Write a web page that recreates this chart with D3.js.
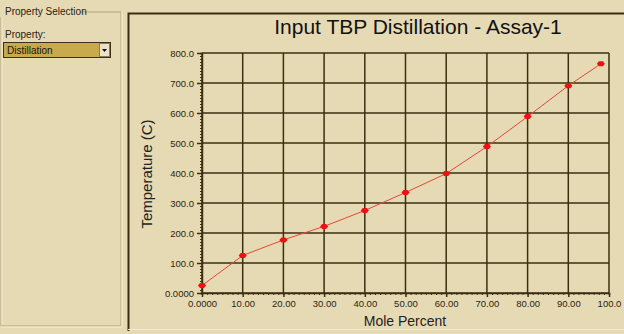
<!DOCTYPE html>
<html lang="en">
<head>
<meta charset="UTF-8">
<title>Input TBP Distillation - Assay-1</title>
<script src="https://d3js.org/d3.v7.min.js"></script>
<style>
  body { margin: 0; background: #e6dab4; }
  svg { display: block; font-family: Arial, "Liberation Sans", sans-serif; }
</style>
</head>
<body>
<svg id="chart" width="624" height="334"></svg>
<script>
// data
const molePercent = [0, 10, 20, 30, 40, 50, 60, 70, 80, 90, 98];
const temperature = [25, 125, 177, 222, 275, 335, 398, 488, 588, 691, 764];
const xTicks = [0, 10, 20, 30, 40, 50, 60, 70, 80, 90, 100];
const xTickLabels = ["0.0000", "10.00", "20.00", "30.00", "40.00", "50.00", "60.00", "70.00", "80.00", "90.00", "100.0"];
const yTicks = [0, 100, 200, 300, 400, 500, 600, 700, 800];
const yTickLabels = ["0.0000", "100.0", "200.0", "300.0", "400.0", "500.0", "600.0", "700.0", "800.0"];

const bg = "#e6dab4";
const ink = "#3b2f12";
const font = "Arial, 'Liberation Sans', sans-serif";

const svg = d3.select("#chart");
svg.append("rect").attr("width", 624).attr("height", 334).attr("fill", bg);

// ---- left property panel ----
const side = svg.append("g");
side.append("path")
  .attr("d", "M1,12 V326 H121 V12 H80")
  .attr("fill", "none").attr("stroke", "#b3a37a").attr("stroke-width", 1);
side.append("path")
  .attr("d", "M2,13 V325 M122,12 V327 H1")
  .attr("fill", "none").attr("stroke", "#f6efd8").attr("stroke-width", 1);
side.append("rect").attr("x", 0).attr("y", 5).attr("width", 80).attr("height", 12).attr("fill", bg);
side.append("text").attr("x", 5).attr("y", 15).attr("font-size", 10).attr("fill", "#2a2410")
  .text("Property Selection");
side.append("text").attr("x", 5).attr("y", 38).attr("font-size", 10).attr("fill", "#2a2410")
  .text("Property:");
side.append("rect").attr("x", 3.5).attr("y", 42.5).attr("width", 107).attr("height", 15)
  .attr("fill", "#c8a94c").attr("stroke", "#3a3020");
side.append("text").attr("x", 7).attr("y", 54).attr("font-size", 10).attr("fill", "#1a1408")
  .text("Distillation");
side.append("rect").attr("x", 99.5).attr("y", 43.5).attr("width", 10).attr("height", 13)
  .attr("fill", "#ece3c6").attr("stroke", "#8a7c5a");
side.append("path").attr("d", "M102,49 h5 l-2.5,3 z").attr("fill", "#111");

// ---- chart panel frame ----
svg.append("path").attr("d", "M128.5,331 V13.5 H624")
  .attr("fill", "none").attr("stroke", "#3a2c10").attr("stroke-width", 2);
svg.append("path").attr("d", "M128,329.5 H624")
  .attr("fill", "none").attr("stroke", "#f4ecd2").attr("stroke-width", 1);

const m = { left: 202, right: 609, top: 53, bottom: 293 };
const x = d3.scaleLinear().domain([0, 100]).range([m.left, m.right]);
const y = d3.scaleLinear().domain([0, 800]).range([m.bottom, m.top]);

// title
svg.append("text").attr("x", 418).attr("y", 34).attr("text-anchor", "middle")
  .attr("font-size", 21).attr("fill", "#111").text("Input TBP Distillation - Assay-1");

// grid
const grid = svg.append("g").attr("stroke", ink).attr("stroke-width", 1.5);
grid.selectAll("line.v").data(xTicks).join("line").attr("class", "v")
  .attr("x1", d => x(d)).attr("x2", d => x(d)).attr("y1", m.top).attr("y2", m.bottom);
grid.selectAll("line.h").data(yTicks).join("line").attr("class", "h")
  .attr("x1", m.left).attr("x2", m.right).attr("y1", d => y(d)).attr("y2", d => y(d));

// axes with minor ticks
const yMinor = d3.axisLeft(y).tickValues(d3.range(0, 801, 10)).tickSize(2)
  .tickFormat(() => "");
svg.append("g").attr("transform", `translate(${m.left},0)`).call(yMinor)
  .call(g => g.select(".domain").attr("stroke", ink).attr("stroke-width", 1.5))
  .call(g => g.selectAll(".tick line").attr("stroke", ink));
const yMajor = d3.axisLeft(y).tickValues(yTicks).tickSize(5)
  .tickFormat((d, i) => yTickLabels[i]).tickPadding(3);
svg.append("g").attr("transform", `translate(${m.left},0)`).call(yMajor)
  .call(g => g.select(".domain").remove())
  .call(g => g.selectAll(".tick line").attr("stroke", ink).attr("stroke-width", 1.5))
  .call(g => g.selectAll(".tick text").attr("font-size", 9.5).attr("fill", "#2a2410")
    .attr("font-family", font));

const xMinor = d3.axisBottom(x).tickValues(d3.range(0, 101, 1.25)).tickSize(2)
  .tickFormat(() => "");
svg.append("g").attr("transform", `translate(0,${m.bottom})`).call(xMinor)
  .call(g => g.select(".domain").attr("stroke", ink).attr("stroke-width", 1.5))
  .call(g => g.selectAll(".tick line").attr("stroke", ink));
const xMajor = d3.axisBottom(x).tickValues(xTicks).tickSize(4)
  .tickFormat((d, i) => xTickLabels[i]).tickPadding(3);
svg.append("g").attr("transform", `translate(0,${m.bottom})`).call(xMajor)
  .call(g => g.select(".domain").remove())
  .call(g => g.selectAll(".tick line").attr("stroke", ink).attr("stroke-width", 1.5))
  .call(g => g.selectAll(".tick text").attr("font-size", 9.5).attr("fill", "#2a2410")
    .attr("font-family", font));

// axis titles
svg.append("text").attr("x", 405).attr("y", 326).attr("text-anchor", "middle")
  .attr("font-size", 14).attr("fill", "#222").text("Mole Percent");
svg.append("text").attr("transform", "translate(152,174) rotate(-90)")
  .attr("text-anchor", "middle").attr("font-size", 15).attr("fill", "#222")
  .text("Temperature (C)");

// series
const pts = molePercent.map((d, i) => [d, temperature[i]]);
svg.append("path").datum(pts)
  .attr("d", d3.line().x(d => x(d[0])).y(d => y(d[1])))
  .attr("fill", "none").attr("stroke", "#e8463a").attr("stroke-width", 1);
svg.append("g").selectAll("path").data(pts).join("path")
  .attr("transform", d => `translate(${x(d[0])},${y(d[1])})`)
  .attr("d", "M-4,0 L-2,-2.5 L2,-2.5 L4,0 L2,2.5 L-2,2.5Z")
  .attr("fill", "#f01010");
</script>
</body>
</html>
